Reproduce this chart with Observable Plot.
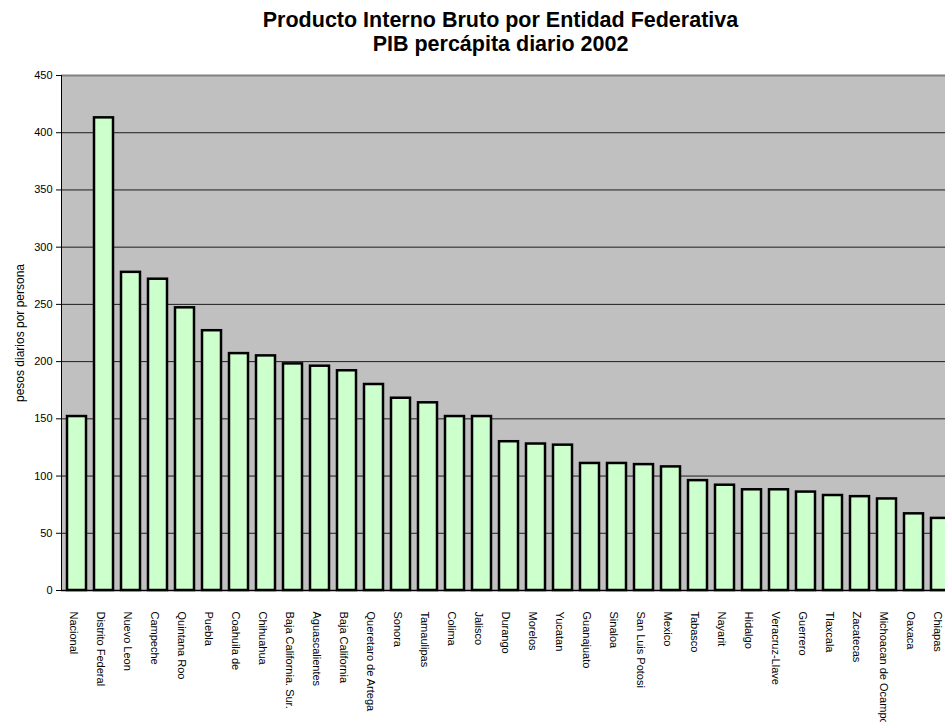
<!DOCTYPE html>
<html>
<head>
<meta charset="utf-8">
<script src="https://cdn.jsdelivr.net/npm/d3@7"></script>
<script src="https://cdn.jsdelivr.net/npm/@observablehq/plot@0.6"></script>
<style>
  html, body { margin: 0; padding: 0; background: #fff; overflow: hidden; width: 945px; height: 722px; }
  #wrap { position: relative; width: 945px; height: 722px; overflow: hidden; }
  .title { position: absolute; left: 0; width: 1001px; text-align: center; font: bold 21.5px "Liberation Sans", Arial, sans-serif; line-height: 25px; color: #000; white-space: nowrap; }
  #chart { position: absolute; left: 0; top: 0; }
  #chart svg { max-width: none !important; }
</style>
</head>
<body>
<div id="wrap">
  <div id="chart"></div>
  <div class="title" style="top:8px">Producto Interno Bruto por Entidad Federativa</div>
  <div class="title" style="top:32px">PIB percápita diario 2002</div>
</div>
<script>
const categories = [
  "Nacional", "Distrito Federal", "Nuevo Leon", "Campeche", "Quintana Roo", "Puebla",
  "Coahuila de", "Chihuahua", "Baja California. Sur.", "Aguascalientes", "Baja California",
  "Queretaro de Artega", "Sonora", "Tamaulipas", "Colima", "Jalisco", "Durango", "Morelos",
  "Yucatan", "Guanajuato", "Sinaloa", "San Luis Potosi", "Mexico", "Tabasco", "Nayarit",
  "Hidalgo", "Veracruz-Llave", "Guerrero", "Tlaxcala", "Zacatecas", "Michoacan de Ocampo",
  "Oaxaca", "Chiapas"
];
const values = [
  152, 413, 278, 272, 247, 227,
  207, 205, 198, 196, 192,
  180, 168, 164, 152, 152, 130, 128,
  127, 111, 111, 110, 108, 96, 92,
  88, 88, 86, 83, 82, 80,
  67, 63
];
const yTicks = [0, 50, 100, 150, 200, 250, 300, 350, 400, 450];
const yLabel = "pesos diarios por persona";

const data = categories.map((c, i) => ({state: c, value: values[i]}));

const chart = Plot.plot({
  width: 956,
  height: 722,
  marginTop: 75,
  marginBottom: 132,
  marginLeft: 61,
  marginRight: 1,
  style: {fontFamily: "'Liberation Sans', Arial, sans-serif", fontSize: "11px", color: "#000", background: "transparent", maxWidth: "none"},
  x: {domain: categories, paddingInner: 0.31, paddingOuter: 0.155, align: 0.5, label: null},
  y: {domain: [0, 450], label: null},
  marks: [
    Plot.frame({fill: "#c0c0c0", stroke: null}),
    Plot.ruleY(yTicks.filter(t => t > 0 && t < 450), {stroke: "#000", strokeWidth: 1, strokeOpacity: 0.85}),
    Plot.ruleY([450], {stroke: "#808080", strokeWidth: 2}),
    Plot.barY(data, {x: "state", y: "value", fill: "#ccffcc", stroke: "#000", strokeWidth: 2.5}),
    Plot.ruleY([0], {stroke: "#000", strokeWidth: 1.5}),
    Plot.frame({anchor: "left", stroke: "#000", strokeWidth: 1}),
    Plot.axisY({ticks: yTicks, tickSize: 5, tickPadding: 4, fontSize: 11}),
    Plot.axisY({ticks: [], tickSize: 0, fontSize: 12,
      label: yLabel, labelAnchor: "center", labelArrow: "none", labelOffset: 46}),
    Plot.axisX({tickRotate: 90, tickSize: 0, tickPadding: 21, fontSize: 11, dx: -3, label: null})
  ]
});
document.getElementById("chart").appendChild(chart);
</script>
</body>
</html>
